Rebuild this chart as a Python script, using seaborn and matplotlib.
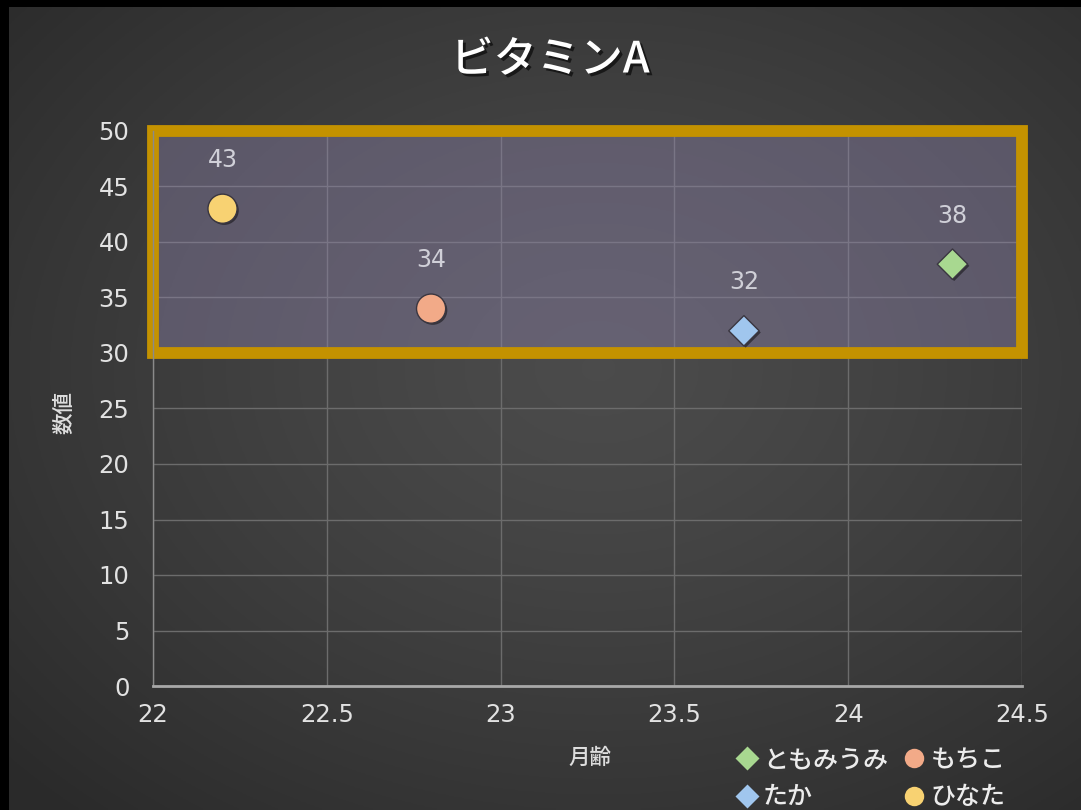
import numpy as np
import pandas as pd
import matplotlib
matplotlib.use("Agg")
import matplotlib.pyplot as plt
import matplotlib.patheffects as pe
from matplotlib.patches import Rectangle
from matplotlib.lines import Line2D
import seaborn as sns

# ---- data ----
names = ["ともみうみ", "たか", "もちこ", "ひなた"]
age_months = [24.3, 23.7, 22.8, 22.2]
values = [38, 32, 34, 43]
colors = ["#a8d890", "#a0c6ee", "#f2aa88", "#f8d272"]
markers = ["D", "D", "o", "o"]
x_ticks = [22, 22.5, 23, 23.5, 24, 24.5]
y_ticks = [0, 5, 10, 15, 20, 25, 30, 35, 40, 45, 50]
highlight_range = (30, 50)

title = "ビタミンA"
x_label = "月齢"
y_label = "数値"

df = pd.DataFrame({"name": names, "x": age_months, "y": values})

sns.set_theme(style="dark")
plt.rcParams["font.family"] = ["Noto Sans CJK JP", "DejaVu Sans"]
num_font = ["DejaVu Sans"]

W, H = 1081, 810
fig = plt.figure(figsize=(W / 100, H / 100), dpi=100)
fig.patch.set_facecolor("black")

# ---- radial gradient backdrop ----
bg = fig.add_axes([9 / W, 0, 1 - 9 / W, 1 - 7 / H])
bg.set_axis_off()
gx, gy = np.meshgrid(np.linspace(0, 1, 400), np.linspace(0, 1, 300))
r = np.sqrt(((gx - 0.55) / 0.75) ** 2 + ((gy - 0.45) / 0.75) ** 2)
shade = 0.295 - 0.13 * np.clip(r, 0, 1) ** 1.3
img = np.dstack([shade, shade, shade])
bg.imshow(img, extent=[0, 1, 0, 1], aspect="auto", origin="upper")
bg.set_xlim(0, 1)
bg.set_ylim(0, 1)

# ---- main axes ----
L, R_, T, B = 153, 1022, 131, 686
ax = fig.add_axes([L / W, 1 - B / H, (R_ - L) / W, (B - T) / H])
ax.patch.set_alpha(0)

ax.set_xlim(x_ticks[0], x_ticks[-1])
ax.set_ylim(y_ticks[0], y_ticks[-1])
ax.set_xticks(x_ticks)
ax.set_yticks(y_ticks)
ax.set_xticklabels([f"{t:g}" for t in x_ticks], family=num_font)
ax.set_yticklabels([str(t) for t in y_ticks], family=num_font)
ax.grid(True, color="#6c6c6c", linewidth=1.0)
ax.set_axisbelow(True)
for side in ["top", "right"]:
    ax.spines[side].set_visible(False)
ax.spines["left"].set_color("#8a8a8a")
ax.spines["left"].set_linewidth(1.0)
ax.spines["bottom"].set_color("#a8a8a8")
ax.spines["bottom"].set_linewidth(2.0)
ax.tick_params(axis="both", colors="#e2e2e2", labelsize=17.5, length=0)
ax.tick_params(axis="y", pad=17)
ax.tick_params(axis="x", pad=12)

# highlighted band
ax.add_patch(Rectangle((x_ticks[0], highlight_range[0]),
                       x_ticks[-1] - x_ticks[0],
                       highlight_range[1] - highlight_range[0],
                       facecolor="#8c82aa", alpha=0.42, edgecolor="none",
                       zorder=1.5, clip_on=False))
ax.add_patch(Rectangle((x_ticks[0], highlight_range[0]),
                       x_ticks[-1] - x_ticks[0],
                       highlight_range[1] - highlight_range[0],
                       facecolor="none", edgecolor="#c49200",
                       linewidth=8.5, zorder=2.5, clip_on=False))

palette = dict(zip(names, colors))
marker_map = dict(zip(names, markers))
shadow = [pe.SimplePatchShadow(offset=(1.2, -1.2), shadow_rgbFace="black", alpha=0.45), pe.Normal()]

for mk, size in [("o", 440), ("D", 240)]:
    sub = df[df["name"].map(marker_map) == mk]
    sns.scatterplot(data=sub, x="x", y="y", hue="name", palette=palette,
                    marker=mk, s=size, edgecolor="#3a3640", linewidth=1.0,
                    legend=False, ax=ax, zorder=4)
for coll in ax.collections:
    coll.set_path_effects(shadow)

for xv, yv in zip(age_months, values):
    ax.annotate(str(yv), (xv, yv), xytext=(0, 35), textcoords="offset points",
                ha="center", va="center", fontsize=17, color="#d0d0d8",
                family=num_font, zorder=5)

ax.set_xlabel("")
ax.set_ylabel("")

fig.text(590 / W, 1 - 758 / H, x_label, ha="center", va="center",
         fontsize=15.5, color="#dedede", fontweight="medium")
fig.text(64 / W, 1 - 413 / H, y_label, ha="center", va="center",
         rotation=90, fontsize=15.5, color="#dedede", fontweight="medium")

fig.text(550 / W, 1 - 60 / H, title, ha="center", va="center",
         fontsize=31, color="white", fontweight="medium",
         path_effects=[pe.withSimplePatchShadow(offset=(2, -2), shadow_rgbFace="black", alpha=0.6)])

handles = [Line2D([], [], linestyle="none", marker=marker_map[n],
                  markerfacecolor=palette[n], markeredgecolor="none",
                  markersize=14 if marker_map[n] == "o" else 12, label=n)
           for n in names]
leg = fig.legend(handles=handles, ncol=2, loc="upper left",
                 bbox_to_anchor=(728 / W, 1 - 737 / H), frameon=False,
                 fontsize=18, handlelength=0.7, handletextpad=0.3,
                 columnspacing=0.7, labelspacing=0.45, borderaxespad=0)
for t in leg.get_texts():
    t.set_color("#ececec")
    t.set_fontweight("medium")

fig.savefig("out.png", dpi=100, facecolor=fig.get_facecolor())
